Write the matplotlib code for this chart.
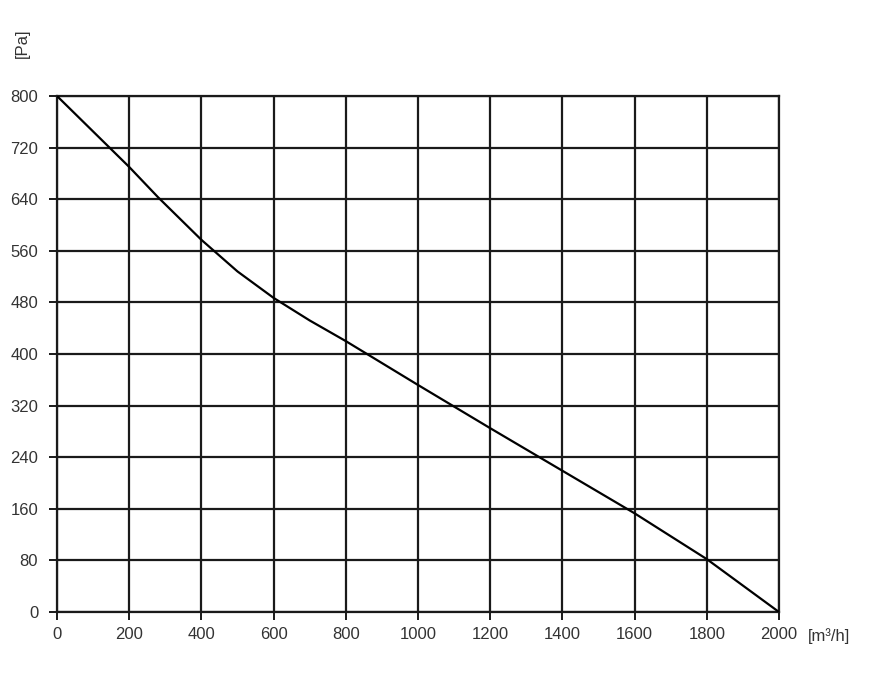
import matplotlib
matplotlib.use("Agg")
import matplotlib.pyplot as plt
import numpy as np

# fan curve
flow = [0, 200, 280, 400, 500, 600, 700, 800, 1000, 1200, 1400, 1600, 1800, 2000]
pressure = [800, 690, 643, 577, 528, 487, 452, 420, 352, 285, 219, 153, 82, 0]

xticks = np.arange(0, 2001, 200)
yticks = np.arange(0, 801, 80)

plt.rcParams['font.family'] = ['Liberation Sans', 'DejaVu Sans']

fig = plt.figure(figsize=(8.75, 6.73), dpi=100)
ax = fig.add_axes([0.0651, 0.0906, 0.8252, 0.7668])

ax.plot(flow, pressure, color='black', lw=1.6, zorder=3)

ax.set_xlim(0, 2000)
ax.set_ylim(0, 800)
ax.set_xticks(xticks)
ax.set_yticks(yticks)
ax.grid(True, color='#1a1a1a', lw=1.6)
ax.set_axisbelow(True)
for s in ax.spines.values():
    s.set_color('#1a1a1a')
    s.set_linewidth(1.6)
ax.tick_params(direction='out', length=5.5, width=1.4, color='#1a1a1a',
               labelsize=12, labelcolor='#333333', pad=5)
ax.tick_params(axis='y', pad=8)

fig.text(808 / 875, 1 - 636 / 673, '[m³/h]', fontsize=12, color='#333333',
         ha='left', va='center')
fig.text(22 / 875, 1 - 43 / 673, '[Pa]', fontsize=12, color='#333333',
         ha='center', va='center', rotation=90)

fig.savefig('out.png', dpi=100)
